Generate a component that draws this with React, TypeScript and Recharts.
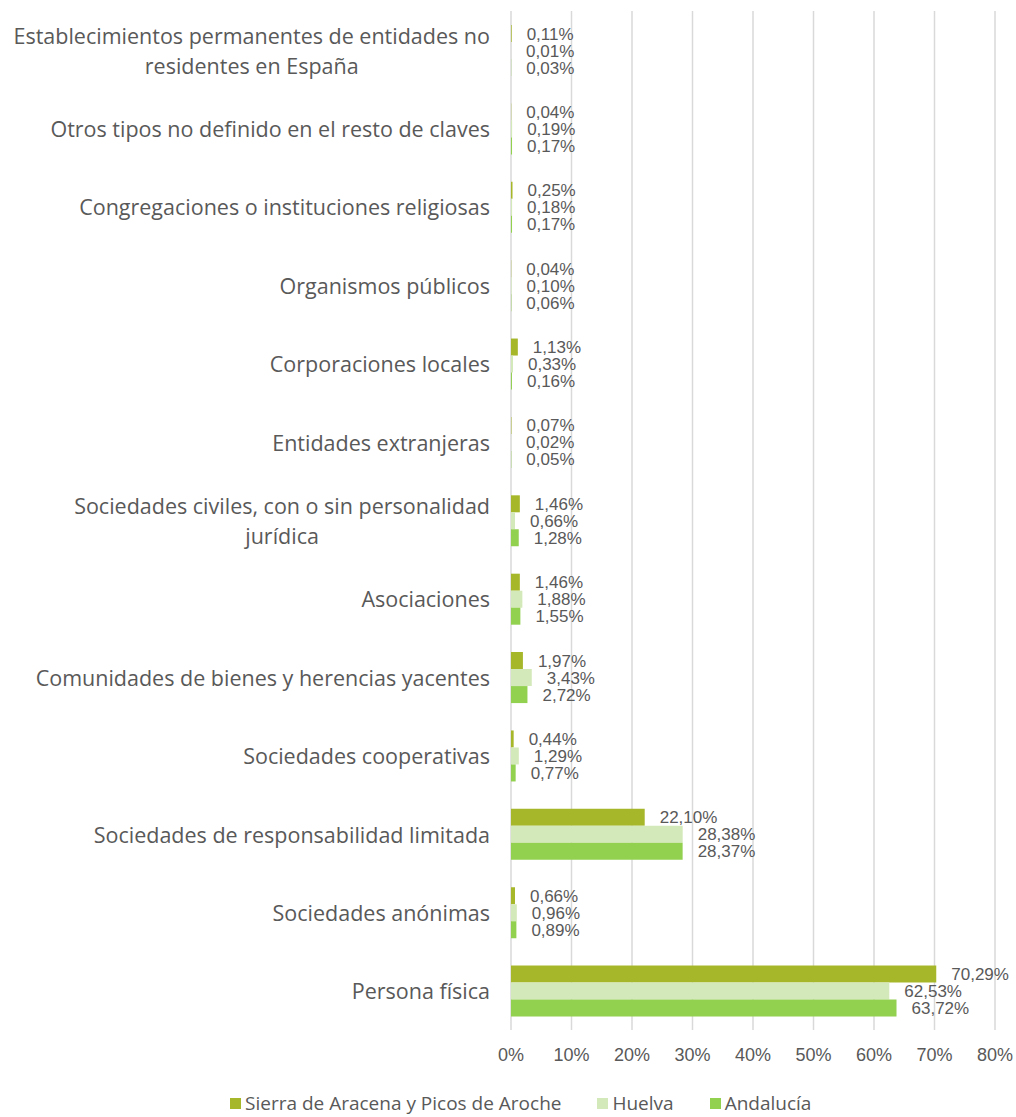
import { BarChart, Bar, XAxis, YAxis, CartesianGrid, LabelList } from "recharts";

const categories = [
  "Establecimientos permanentes de entidades no residentes en España",
  "Otros tipos no definido en el resto de claves",
  "Congregaciones o instituciones religiosas",
  "Organismos públicos",
  "Corporaciones locales",
  "Entidades extranjeras",
  "Sociedades civiles, con o sin personalidad jurídica",
  "Asociaciones",
  "Comunidades de bienes y herencias yacentes",
  "Sociedades cooperativas",
  "Sociedades de responsabilidad limitada",
  "Sociedades anónimas",
  "Persona física",
];

const sierra = [0.11, 0.04, 0.25, 0.04, 1.13, 0.07, 1.46, 1.46, 1.97, 0.44, 22.1, 0.66, 70.29];
const huelva = [0.01, 0.19, 0.18, 0.1, 0.33, 0.02, 0.66, 1.88, 3.43, 1.29, 28.38, 0.96, 62.53];
const andalucia = [0.03, 0.17, 0.17, 0.06, 0.16, 0.05, 1.28, 1.55, 2.72, 0.77, 28.37, 0.89, 63.72];

const xTicks = [0, 10, 20, 30, 40, 50, 60, 70, 80];

const series = [
  { key: "sierra", name: "Sierra de Aracena y Picos de Aroche", color: "#A7B72A" },
  { key: "huelva", name: "Huelva", color: "#D4E9B9" },
  { key: "andalucia", name: "Andalucía", color: "#92D050" },
];

const data = categories.map((name, i) => ({
  name,
  sierra: sierra[i],
  huelva: huelva[i],
  andalucia: andalucia[i],
}));

const TEXT = "#595959";
const LABEL_FONT = "'Open Sans', 'Noto Sans', sans-serif";
const NUM_FONT = "'Liberation Sans', Arial, sans-serif";
const CAT_SIZE = 21.5;
const WRAP_WIDTH = 485;

let ctx: CanvasRenderingContext2D | null = null;
function measure(text: string) {
  if (!ctx) {
    ctx = document.createElement("canvas").getContext("2d");
  }
  if (!ctx) return text.length * CAT_SIZE * 0.5;
  ctx.font = `${CAT_SIZE}px 'Open Sans'`;
  return ctx.measureText(text).width;
}

function wrap(text: string) {
  const words = text.split(" ");
  const lines: string[] = [];
  let cur = "";
  words.forEach((w) => {
    const next = cur ? cur + " " + w : w;
    if (cur && measure(next) > WRAP_WIDTH) {
      lines.push(cur);
      cur = w;
    } else {
      cur = next;
    }
  });
  if (cur) lines.push(cur);
  return lines;
}

const CategoryTick = (props: any) => {
  const { x, y, payload } = props;
  const lines = wrap(payload.value);
  if (lines.length === 1) {
    return (
      <text x={x} y={y + 1} dy="0.35em" textAnchor="end" fill={TEXT} fontSize={CAT_SIZE} fontFamily={LABEL_FONT}>
        {payload.value}
      </text>
    );
  }
  const maxW = Math.max(...lines.map(measure));
  const lineH = 30;
  const startY = y + 1 - ((lines.length - 1) * lineH) / 2;
  return (
    <text textAnchor="middle" fill={TEXT} fontSize={CAT_SIZE} fontFamily={LABEL_FONT}>
      {lines.map((l, i) => (
        <tspan key={i} x={x - maxW / 2} y={startY + i * lineH} dy="0.35em">
          {l}
        </tspan>
      ))}
    </text>
  );
};

const fmt = (v: any) => Number(v).toFixed(2).replace(".", ",") + "%";

export default function App() {
  return (
    <div style={{ position: "absolute", left: 0, top: 0, width: 1016, height: 1117, background: "#fff" }}>
      <BarChart
        width={1016}
        height={1090}
        data={data}
        layout="vertical"
        margin={{ top: 11, right: 21, bottom: 20, left: 0 }}
        barCategoryGap={14}
        barGap={0}
      >
        <CartesianGrid horizontal={false} vertical={true} stroke="#D9D9D9" strokeWidth={1.5} />
        <XAxis
          type="number"
          domain={[0, 80]}
          ticks={xTicks}
          height={40}
          axisLine={false}
          tickLine={false}
          tickMargin={12}
          tickFormatter={(v) => `${v}%`}
          tick={{ fill: TEXT, fontSize: 18, fontFamily: NUM_FONT }}
        />
        <YAxis
          type="category"
          dataKey="name"
          width={511}
          axisLine={false}
          tickLine={false}
          tickMargin={15}
          interval={0}
          tick={<CategoryTick />}
        />
        {series.map((s) => (
          <Bar key={s.key} dataKey={s.key} name={s.name} fill={s.color} isAnimationActive={false}>
            <LabelList
              dataKey={s.key}
              position="right"
              offset={15}
              formatter={fmt}
              fill={TEXT}
              fontSize={17}
              fontFamily={NUM_FONT}
            />
          </Bar>
        ))}
      </BarChart>
      <div
        style={{
          position: "absolute",
          top: 1093,
          left: 230,
          display: "flex",
          alignItems: "center",
          fontFamily: LABEL_FONT,
          fontSize: 19,
          lineHeight: "20px",
          color: TEXT,
          whiteSpace: "nowrap",
        }}
      >
        {series.map((s) => (
          <div key={s.key} style={{ display: "flex", alignItems: "center", marginRight: 36 }}>
            <span style={{ width: 11, height: 11, background: s.color, display: "inline-block", marginRight: 4 }} />
            <span>{s.name}</span>
          </div>
        ))}
      </div>
    </div>
  );
}
